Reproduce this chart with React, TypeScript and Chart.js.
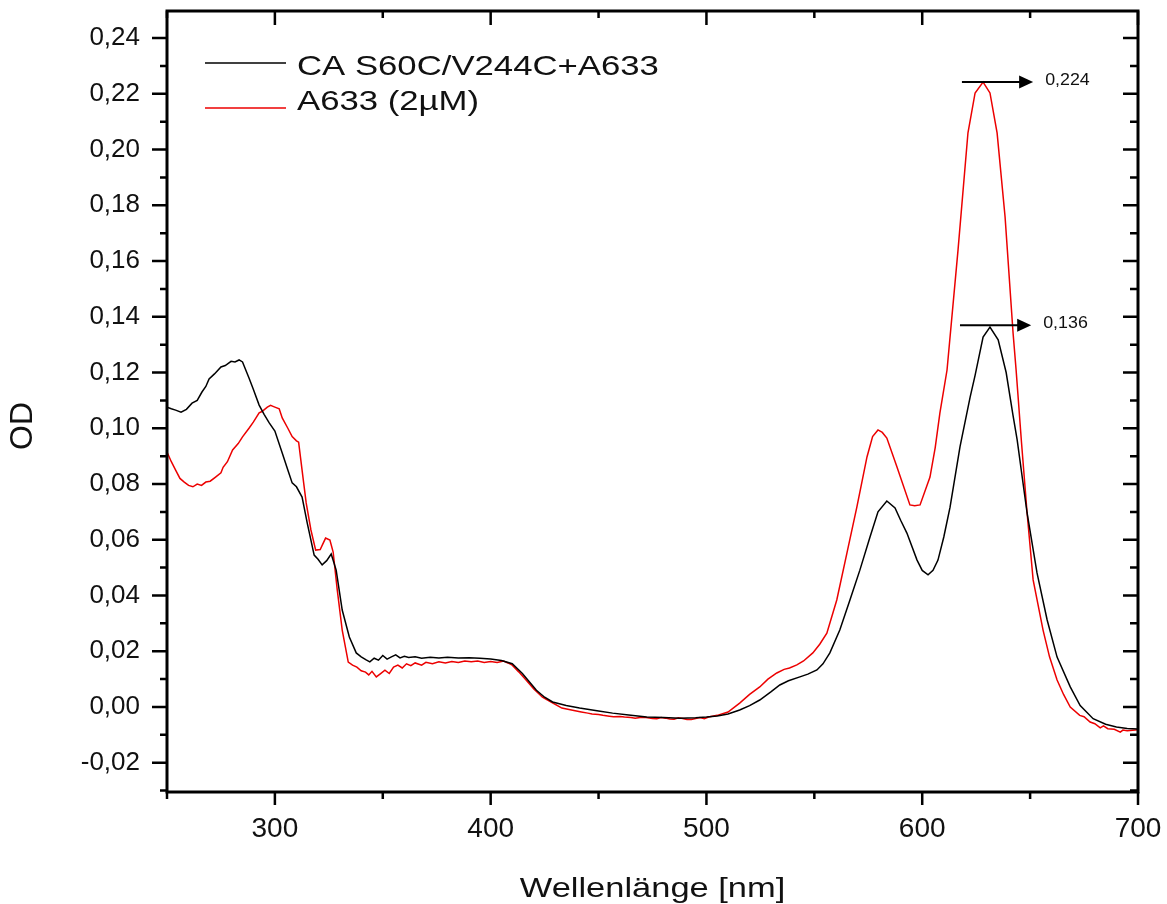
import React, { useEffect, useRef } from 'react';
import { Chart, registerables } from 'chart.js';

Chart.register(...registerables);

const FONT = "'Liberation Sans', Arial, Helvetica, sans-serif";

const seriesNames = ['CA S60C/V244C+A633', 'A633 (2µM)'];
const seriesColors = ['#000000', 'rgb(236,0,0)'];

const xTitle = 'Wellenlänge [nm]';
const yTitle = 'OD';

// Black: CA S60C/V244C+A633
const blackNm = [
  250, 252, 254, 256.5, 259, 261.6, 264, 266.2, 268, 269.5, 272, 275, 277, 279.7, 281.5, 283.4, 285, 288, 290,
  292.7, 295, 297.3, 300, 303.4, 306, 308, 310, 312.6, 315, 318.2, 320, 321.9, 324, 326.1, 328.4, 331.2, 334.5,
  337.7, 340, 342.3, 344, 346, 348, 350, 352, 354, 356, 358, 360, 362, 365, 368, 372, 376, 380, 385, 390, 395,
  400, 405, 410, 414.7, 418, 421.2, 425, 428.7, 435, 441.2, 450, 456.5, 465, 472.3, 480, 487.6, 495, 500, 505,
  510, 515.4, 520, 524.7, 530, 534, 538, 543.3, 547, 551.2, 554, 557.2, 561.8, 566.5, 571.1, 575.8, 579.5, 583.6,
  587.4, 590, 592.9, 597.6, 600, 602.7, 605, 607.3, 610, 612.9, 617.5, 622.2, 624.5, 628.2, 631.4, 635.2, 638.9,
  642, 644, 648.6, 653.2, 657.9, 662.5, 668.6, 673.2, 679.2, 685, 690, 695, 700,
];
const blackOD = [
  0.1076, 0.107, 0.1065, 0.1058, 0.1068, 0.109, 0.11, 0.113, 0.115, 0.1177, 0.1195, 0.122, 0.1225, 0.124, 0.1238,
  0.1245, 0.1238, 0.118, 0.114, 0.1083, 0.105, 0.102, 0.099, 0.0911, 0.085, 0.0804, 0.079, 0.0753, 0.066, 0.0545,
  0.053, 0.051, 0.0525, 0.0549, 0.0491, 0.0348, 0.0251, 0.0194, 0.018, 0.0169, 0.0162, 0.0175, 0.0168, 0.0185,
  0.0172, 0.018, 0.0187, 0.0176, 0.0182, 0.0178, 0.018, 0.0175, 0.0178, 0.0176, 0.0178, 0.0176, 0.0177, 0.0175,
  0.0172, 0.0167, 0.0155, 0.012, 0.009, 0.006, 0.0035, 0.0018, 0.0005, -0.0004, -0.0014, -0.0022, -0.003, -0.0036,
  -0.0038, -0.004, -0.0039, -0.0036, -0.0032, -0.0025, -0.0011, 0.0005, 0.0025, 0.0055, 0.0079, 0.0094, 0.0108,
  0.0118, 0.0133, 0.0155, 0.0194, 0.0276, 0.0384, 0.0491, 0.061, 0.07, 0.0739, 0.0714, 0.067, 0.0624, 0.0527, 0.049,
  0.0474, 0.049, 0.0527, 0.061, 0.0717, 0.0933, 0.1112, 0.119, 0.1327, 0.1363, 0.1317, 0.12, 0.105, 0.0958, 0.0696,
  0.0481, 0.0312, 0.0179, 0.0072, 0.0005, -0.0042, -0.0062, -0.0072, -0.0077, -0.0079,
];

// Red: A633 (2µM)
const redNm = [
  250, 252, 254, 256, 258, 260, 262, 264, 266, 268, 270, 272.5, 275, 276, 278, 280.4, 283, 285, 288, 290, 292.7,
  294, 296.5, 298, 300, 302, 303.4, 306, 308, 310, 311, 313, 314.5, 316.7, 318.9, 321, 323.5, 325.5, 327, 328.9,
  331.2, 334, 336, 338, 340, 342, 343.5, 345, 347, 349, 351, 353, 355, 357, 359, 361, 363, 365, 368, 370, 373, 376,
  379, 382, 385, 388, 391, 394, 397, 400, 403, 406, 408, 410, 413, 416, 420, 424, 428, 433, 438, 442, 445, 447, 450,
  452, 455, 457, 460, 462, 465, 467, 470, 472, 475, 477, 479, 481, 483, 485, 487, 489, 491, 493, 495, 497, 499, 501,
  505, 510, 515.4, 520, 524.7, 528.5, 532.6, 536, 538.5, 541.9, 545, 549.3, 552.5, 555.8, 560.4, 565.1, 569.7,
  574.4, 577, 579.5, 581.5, 583.6, 588.3, 594.3, 596.5, 599, 603.6, 606, 608.2, 611.5, 616.6, 621.2, 624.5, 628.2,
  631.4, 634.7, 638.4, 642.1, 643.5, 646, 648.6, 651.4, 656, 659, 662.5, 665.5, 668.6, 673, 675, 677.8, 680, 682.5,
  684, 686, 689, 691.8, 693, 695, 700,
];
const redOD = [
  0.0915, 0.088, 0.085, 0.082, 0.0807, 0.0795, 0.079, 0.08, 0.0795, 0.0807, 0.081, 0.0825, 0.084, 0.086, 0.088,
  0.0922, 0.0945, 0.0969, 0.1, 0.1022, 0.1055, 0.106, 0.1076, 0.1082, 0.1076, 0.107, 0.1037, 0.1, 0.097, 0.0955,
  0.095, 0.0825, 0.0732, 0.0635, 0.0563, 0.0565, 0.0606, 0.0599, 0.0556, 0.042, 0.0276, 0.0161, 0.015, 0.0143,
  0.013, 0.0125, 0.0115, 0.0128, 0.0108, 0.012, 0.0132, 0.012, 0.0143, 0.015, 0.014, 0.0155, 0.0148, 0.0158, 0.015,
  0.016, 0.0155, 0.0162, 0.0158, 0.0163, 0.016, 0.0165, 0.0162, 0.0165, 0.016, 0.0163, 0.016, 0.0165, 0.0158, 0.015,
  0.0126, 0.01, 0.0065, 0.0035, 0.0018, -0.0004, -0.0012, -0.0018, -0.0022, -0.0025, -0.0027, -0.003, -0.0033,
  -0.0035, -0.0034, -0.0036, -0.0038, -0.004, -0.0037, -0.0038, -0.0041, -0.0042, -0.0038, -0.004, -0.0043, -0.0044,
  -0.0039, -0.0041, -0.0045, -0.0045, -0.0041, -0.0038, -0.0042, -0.0036, -0.003, -0.0018, 0.0014, 0.0045, 0.0072,
  0.01, 0.0122, 0.0135, 0.014, 0.0151, 0.0165, 0.0194, 0.0225, 0.0265, 0.0384, 0.0552, 0.0717, 0.0897, 0.097,
  0.0994, 0.0985, 0.0965, 0.0861, 0.0725, 0.0722, 0.0725, 0.0825, 0.093, 0.1055, 0.1209, 0.164, 0.206, 0.2203,
  0.2242, 0.2203, 0.206, 0.1758, 0.1342, 0.121, 0.095, 0.0696, 0.0456, 0.0276, 0.018, 0.0097, 0.0045, 0.0, -0.003,
  -0.0035, -0.0054, -0.006, -0.0075, -0.0068, -0.0078, -0.008, -0.009, -0.0083, -0.0085, -0.0082,
];

// Peak annotations (arrows pointing right with value labels)
const peakValues = [0.2242, 0.137];
const peakLabels = ['0,224', '0,136'];
const arrowFromNm = [618.4, 617.5];
const arrowToNm = [651.4, 650.5];

function stretchedText(
  ctx: CanvasRenderingContext2D,
  text: string,
  x: number,
  y: number,
  size: number,
  sx: number,
  align: CanvasTextAlign
) {
  ctx.save();
  ctx.font = `${size}px ${FONT}`;
  ctx.translate(x, y);
  ctx.scale(sx, 1);
  ctx.textAlign = align;
  ctx.textBaseline = 'alphabetic';
  ctx.fillStyle = '#111';
  ctx.fillText(text, 0, 0);
  ctx.restore();
}

const framePlugin = {
  id: 'framePlugin',
  afterDraw(chart: any) {
    const ctx: CanvasRenderingContext2D = chart.ctx;
    const ca = chart.chartArea;
    const xs = chart.scales.x;
    const ys = chart.scales.y;
    ctx.save();
    ctx.strokeStyle = '#000';
    ctx.lineCap = 'butt';

    // ticks
    ctx.lineWidth = 2.5;
    ctx.beginPath();
    xs.ticks.forEach((t: any) => {
      const px = xs.getPixelForValue(t.value);
      const major = Math.round(t.value) % 100 === 0;
      const outLen = major ? 13 : 7;
      const inLen = major ? 14 : 7;
      ctx.moveTo(px, ca.bottom);
      ctx.lineTo(px, ca.bottom + outLen);
      ctx.moveTo(px, ca.top);
      ctx.lineTo(px, ca.top + inLen);
    });
    ys.ticks.forEach((t: any) => {
      const py = ys.getPixelForValue(t.value);
      const major = Math.abs(Math.round(t.value * 100)) % 2 === 0;
      const outLen = major ? 15 : 7;
      const inLen = major ? 15 : 8;
      ctx.moveTo(ca.left, py);
      ctx.lineTo(ca.left - outLen, py);
      ctx.moveTo(ca.right, py);
      ctx.lineTo(ca.right - inLen, py);
    });
    ctx.stroke();

    // frame
    ctx.lineWidth = 3;
    ctx.strokeRect(ca.left, ca.top, ca.right - ca.left, ca.bottom - ca.top);

    // legend
    const legendLineY = [63, 108];
    const legendTextY = [75, 110];
    seriesNames.forEach((name, i) => {
      ctx.beginPath();
      ctx.strokeStyle = seriesColors[i];
      ctx.lineWidth = 1.5;
      ctx.moveTo(205, legendLineY[i]);
      ctx.lineTo(286, legendLineY[i]);
      ctx.stroke();
      stretchedText(ctx, name, 297, legendTextY[i], 28, 1.24, 'left');
    });

    // arrows
    peakValues.forEach((v, i) => {
      const y = ys.getPixelForValue(v);
      const x0 = xs.getPixelForValue(arrowFromNm[i]);
      const x1 = xs.getPixelForValue(arrowToNm[i]);
      ctx.beginPath();
      ctx.strokeStyle = '#000';
      ctx.lineWidth = 2;
      ctx.moveTo(x0, y);
      ctx.lineTo(x1 - 8, y);
      ctx.stroke();
      ctx.beginPath();
      ctx.fillStyle = '#000';
      ctx.moveTo(x1, y);
      ctx.lineTo(x1 - 14, y - 6.5);
      ctx.lineTo(x1 - 14, y + 6.5);
      ctx.closePath();
      ctx.fill();
      stretchedText(ctx, peakLabels[i], x1 + 12, y + 3, 17, 1.05, 'left');
    });

    // axis titles
    stretchedText(ctx, xTitle, (ca.left + ca.right) / 2, 897, 28, 1.23, 'center');
    ctx.save();
    ctx.translate(23.5, 426);
    ctx.rotate(-Math.PI / 2);
    ctx.font = `32px ${FONT}`;
    ctx.textAlign = 'center';
    ctx.textBaseline = 'middle';
    ctx.fillStyle = '#111';
    ctx.fillText(yTitle, 0, 0);
    ctx.restore();

    ctx.restore();
  },
};

export default function App() {
  const canvasRef = useRef<HTMLCanvasElement | null>(null);

  useEffect(() => {
    if (!canvasRef.current) return;
    const chart = new Chart(canvasRef.current, {
      type: 'line',
      data: {
        datasets: [
          {
            label: seriesNames[0],
            data: blackNm.map((x, i) => ({ x, y: blackOD[i] })),
            borderColor: seriesColors[0],
            borderWidth: 1.5,
            pointRadius: 0,
            tension: 0,
            fill: false,
          },
          {
            label: seriesNames[1],
            data: redNm.map((x, i) => ({ x, y: redOD[i] })),
            borderColor: seriesColors[1],
            borderWidth: 1.5,
            pointRadius: 0,
            tension: 0,
            fill: false,
          },
        ],
      },
      options: {
        animation: false,
        responsive: true,
        maintainAspectRatio: false,
        layout: { padding: { top: 11, right: 29, left: 0, bottom: 0 } },
        plugins: {
          legend: { display: false },
          tooltip: { enabled: false },
        },
        scales: {
          x: {
            type: 'linear',
            min: 250,
            max: 700,
            grid: { display: false, drawTicks: false },
            border: { display: false },
            ticks: {
              stepSize: 50,
              autoSkip: false,
              maxRotation: 0,
              includeBounds: false,
              padding: 20,
              color: '#111',
              font: { family: FONT, size: 28 },
              callback: (v: any) => (Math.round(Number(v)) % 100 === 0 ? String(Math.round(Number(v))) : ''),
            },
            afterFit: (s: any) => {
              s.height = 112;
              s.paddingLeft = 0;
              s.paddingRight = 0;
            },
          },
          y: {
            type: 'linear',
            min: -0.0305,
            max: 0.2497,
            grid: { display: false, drawTicks: false },
            border: { display: false },
            ticks: {
              stepSize: 0.01,
              autoSkip: false,
              includeBounds: false,
              padding: 27,
              color: '#111',
              font: { family: FONT, size: 26 },
              callback: (v: any) => {
                const n = Math.round(Number(v) * 100);
                return Math.abs(n) % 2 === 0 ? (n / 100).toFixed(2).replace('.', ',') : '';
              },
            },
            afterFit: (s: any) => {
              s.width = 167;
              s.paddingTop = 0;
              s.paddingBottom = 0;
            },
          },
        },
      },
      plugins: [framePlugin],
    });
    return () => chart.destroy();
  }, []);

  return (
    <div style={{ position: 'fixed', left: 0, top: 0, width: 1167, height: 904, background: '#fff' }}>
      <canvas ref={canvasRef} />
    </div>
  );
}
